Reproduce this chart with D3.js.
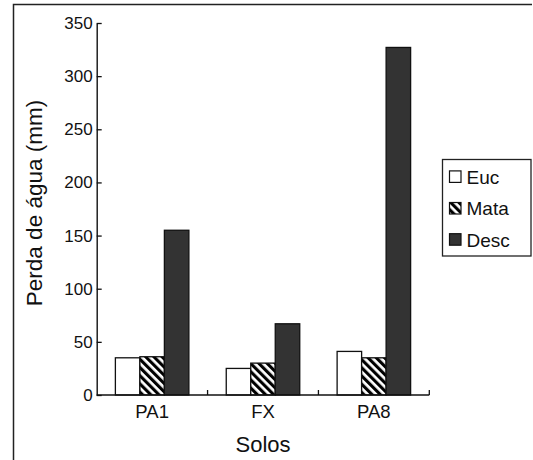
<!DOCTYPE html>
<html>
<head>
<meta charset="utf-8">
<script src="https://cdn.jsdelivr.net/npm/d3@7"></script>
<style>
  html, body { margin: 0; padding: 0; background: #fff; }
  svg { display: block; font-family: "Liberation Sans", Arial, sans-serif; }
</style>
</head>
<body>
<svg id="chart" width="533" height="460"></svg>
<script>
const categories = ["PA1", "FX", "PA8"];
const seriesNames = ["Euc", "Mata", "Desc"];
const eucValues = [35, 25, 41];
const mataValues = [36, 30, 35];
const descValues = [155, 67, 327];
const yTicks = [0, 50, 100, 150, 200, 250, 300, 350];
const yLabel = "Perda de água (mm)";
const xLabel = "Solos";

const seriesValues = { Euc: eucValues, Mata: mataValues, Desc: descValues };

const svg = d3.select("#chart");
const defs = svg.append("defs");
const pat = defs.append("pattern")
  .attr("id", "hatch")
  .attr("patternUnits", "userSpaceOnUse")
  .attr("width", 5.8).attr("height", 5.8)
  .attr("patternTransform", "rotate(-45)");
pat.append("rect").attr("width", 5.8).attr("height", 5.8).attr("fill", "#fff");
pat.append("rect").attr("width", 3.1).attr("height", 5.8).attr("fill", "#000");

const fills = { Euc: "#ffffff", Mata: "url(#hatch)", Desc: "#333333" };

// outer frame
svg.append("path")
  .attr("d", "M13.5,462 V4.5 H532")
  .attr("fill", "none").attr("stroke", "#222").attr("stroke-width", 1.5);

const plotL = 96.7, plotR = 429.3, plotT = 23, plotB = 395;

const y = d3.scaleLinear().domain([0, 350]).range([plotB, plotT]);
const x = d3.scaleBand().domain(categories).range([plotL, plotR]).paddingInner(0).paddingOuter(0);
const groupW = 73.5;
const x1 = d3.scaleBand().domain(seriesNames).range([0, groupW]).padding(0);

// bars
const g = svg.append("g");
categories.forEach((c, i) => {
  const gx = x(c) + (x.bandwidth() - groupW) / 2;
  seriesNames.forEach(s => {
    const v = seriesValues[s][i];
    g.append("rect")
      .attr("x", gx + x1(s))
      .attr("y", y(v))
      .attr("width", x1.bandwidth())
      .attr("height", y(0) - y(v))
      .attr("fill", fills[s])
      .attr("stroke", "#111")
      .attr("stroke-width", 1.3);
  });
});

// y axis
const yAxis = d3.axisLeft(y).tickValues(yTicks).tickSizeInner(-5).tickSizeOuter(0).tickPadding(4);
const yg = svg.append("g").attr("transform", `translate(${plotL},0)`).call(yAxis);
yg.select(".domain").attr("stroke", "#111").attr("stroke-width", 1.4);
yg.selectAll(".tick line").attr("stroke", "#111").attr("stroke-width", 1.3);
yg.selectAll(".tick text").attr("font-size", 17).attr("fill", "#111")
  .attr("font-family", "Liberation Sans, Arial, sans-serif");

// x axis
const xg = svg.append("g");
xg.append("line").attr("x1", plotL).attr("x2", plotR).attr("y1", plotB).attr("y2", plotB)
  .attr("stroke", "#111").attr("stroke-width", 1.4);
categories.forEach(c => {
  const bx = x(c) + x.bandwidth();
  xg.append("line").attr("x1", bx).attr("x2", bx).attr("y1", plotB).attr("y2", plotB - 5)
    .attr("stroke", "#111").attr("stroke-width", 1.3);
  xg.append("text").attr("x", x(c) + x.bandwidth() / 2).attr("y", 417.5)
    .attr("text-anchor", "middle").attr("font-size", 18.5).attr("fill", "#111").text(c);
});

// axis titles
svg.append("text").attr("x", (plotL + plotR) / 2).attr("y", 452)
  .attr("text-anchor", "middle").attr("font-size", 22).attr("fill", "#111").text(xLabel);
svg.append("text").attr("transform", `translate(42,${(plotT + plotB) / 2 - 6}) rotate(-90)`)
  .attr("text-anchor", "middle").attr("font-size", 22.5).attr("fill", "#111").text(yLabel);

// legend
const lg = svg.append("g");
lg.append("rect").attr("x", 442.5).attr("y", 159.5).attr("width", 88.5).attr("height", 96.5)
  .attr("fill", "#fff").attr("stroke", "#222").attr("stroke-width", 1.3);
const legendY = [176.7, 208.3, 239.5];
seriesNames.forEach((s, i) => {
  lg.append("rect").attr("x", 449.5).attr("y", legendY[i] - 5.8).attr("width", 11.5).attr("height", 11.5)
    .attr("fill", fills[s]).attr("stroke", "#111").attr("stroke-width", 1.2);
  lg.append("text").attr("x", 466.5).attr("y", legendY[i] + 7)
    .attr("font-size", 19).attr("fill", "#111").text(s);
});
</script>
</body>
</html>
